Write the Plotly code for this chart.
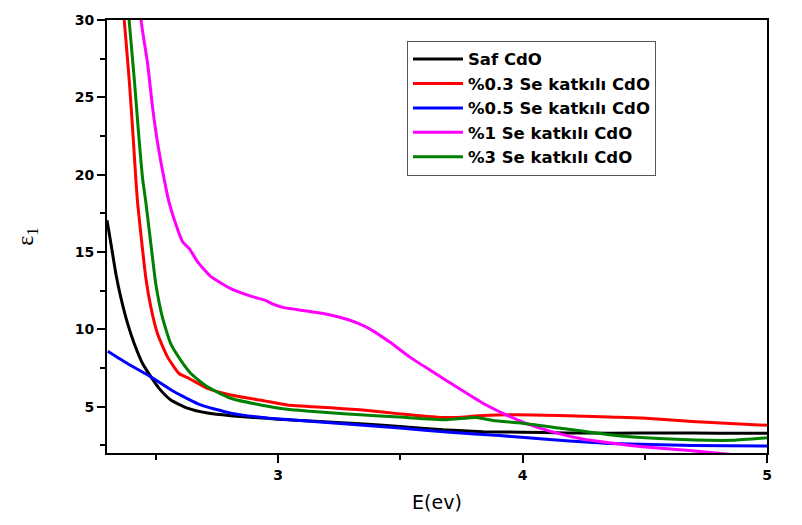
import plotly.graph_objects as go

# Photon energy (eV) and real dielectric constant for each film
e_saf = [2.300, 2.317, 2.337, 2.357, 2.385, 2.412, 2.446, 2.48, 2.513, 2.561, 2.629,
         2.711, 2.806, 2.9, 3.0, 3.335, 3.498, 3.675, 3.838, 4.0, 4.177, 4.354,
         4.6, 4.8, 5.0]
eps_saf = [17.05, 15.45, 13.53, 12.03, 10.33, 9.05, 7.77, 6.92, 6.18, 5.43, 4.9,
           4.58, 4.41, 4.3, 4.19, 3.89, 3.72, 3.5, 3.38, 3.34, 3.3, 3.28,
           3.3, 3.28, 3.28]

e_se03 = [2.366, 2.371, 2.391, 2.405, 2.418, 2.425, 2.439, 2.459, 2.48, 2.507, 2.548,
          2.595, 2.636, 2.711, 2.806, 2.941, 3.037, 3.2, 3.335, 3.498, 3.661, 3.729,
          3.838, 3.974, 4.15, 4.354, 4.49, 4.694, 5.0]
eps_se03 = [31.0, 29.9, 26.1, 22.9, 19.7, 18.2, 16.09, 13.3, 11.39, 9.69, 8.2,
            7.14, 6.82, 6.18, 5.75, 5.38, 5.11, 4.94, 4.79, 4.53, 4.3, 4.3,
            4.42, 4.47, 4.42, 4.32, 4.26, 4.04, 3.79]

e_se05 = [2.303, 2.385, 2.48, 2.575, 2.683, 2.806, 2.955, 3.09, 3.335, 3.498, 3.702,
          3.906, 4.11, 4.354, 4.694, 5.0]
eps_se05 = [8.58, 7.77, 6.92, 5.96, 5.11, 4.58, 4.26, 4.1, 3.81, 3.61, 3.34,
            3.13, 2.87, 2.62, 2.49, 2.45]

e_se1 = [2.436, 2.44, 2.466, 2.486, 2.507, 2.534, 2.554, 2.588, 2.609, 2.636, 2.67,
         2.724, 2.806, 2.888, 2.948, 2.982, 3.023, 3.118, 3.2, 3.281, 3.335, 3.376,
         3.458, 3.539, 3.634, 3.729, 3.838, 3.933, 4.028, 4.137, 4.245, 4.354, 4.49,
         4.694, 4.8, 5.0]
eps_se1 = [31.0, 29.9, 27.2, 24.4, 22.05, 19.7, 18.2, 16.5, 15.66, 15.23, 14.38,
           13.42, 12.63, 12.14, 11.87, 11.61, 11.4, 11.18, 10.97, 10.65, 10.33, 10.01,
           9.16, 8.2, 7.24, 6.28, 5.22, 4.47, 3.83, 3.3, 2.91, 2.66, 2.4,
           2.14, 1.98, 1.7]

e_se3 = [2.386, 2.391, 2.412, 2.428, 2.446, 2.459, 2.48, 2.5, 2.527, 2.561, 2.602,
         2.643, 2.711, 2.806, 2.928, 3.037, 3.2, 3.335, 3.498, 3.688, 3.81, 3.879,
         4.0, 4.15, 4.354, 4.558, 4.762, 4.86, 5.0]
eps_se3 = [31.0, 29.9, 26.1, 22.9, 19.7, 18.2, 15.45, 12.89, 10.75, 9.05, 7.99,
           7.14, 6.28, 5.54, 5.11, 4.83, 4.62, 4.47, 4.32, 4.15, 4.3, 4.1,
           3.93, 3.61, 3.18, 2.93, 2.82, 2.82, 2.98]

series_names = ["Saf CdO", "%0.3 Se katkılı CdO", "%0.5 Se katkılı CdO",
                "%1 Se katkılı CdO", "%3 Se katkılı CdO"]
series_x = [e_saf, e_se03, e_se05, e_se1, e_se3]
series_y = [eps_saf, eps_se03, eps_se05, eps_se1, eps_se3]
series_colors = ["#000000", "#FF0000", "#0000FF", "#FF00FF", "#008000"]

x_ticks = [3, 4, 5]
y_ticks = [5, 10, 15, 20, 25, 30]

BOLD_FONT = "DejaVu Sans, sans-serif"
TEXT_FONT = "DejaVu Sans, sans-serif"
GREEK_FONT = "Liberation Serif, serif"

fig = go.Figure()
for name, xs, ys, col in zip(series_names, series_x, series_y, series_colors):
    fig.add_trace(go.Scatter(x=xs, y=ys, mode="lines", name=name,
                             line=dict(color=col, width=3, shape="spline", smoothing=0.5)))

fig.update_layout(
    width=802, height=525,
    margin=dict(l=107, r=35, t=16, b=72),
    paper_bgcolor="white", plot_bgcolor="white",
    font=dict(family=TEXT_FONT, color="black"),
    showlegend=True,
    legend=dict(
        x=0.4545, y=0.952, xanchor="left", yanchor="top",
        bgcolor="white", bordercolor="#555555", borderwidth=1,
        font=dict(family=BOLD_FONT, size=16.5, color="black", weight="bold"),
        tracegroupgap=0, itemwidth=50,
    ),
)

fig.update_xaxes(
    range=[2.3, 5], tickvals=x_ticks, ticktext=[str(t) for t in x_ticks],
    showgrid=False, zeroline=False,
    showline=True, linecolor="black", linewidth=2, mirror=True,
    ticks="outside", ticklen=8, tickwidth=2, tickcolor="black",
    minor=dict(tickvals=[2.5, 3.5, 4.5], ticks="outside", ticklen=5,
               tickwidth=2, tickcolor="black"),
    tickfont=dict(family=BOLD_FONT, size=14, color="black", weight="bold"),
    title=dict(text="E(ev)", font=dict(family=TEXT_FONT, size=19, color="black"),
               standoff=14),
)

fig.update_yaxes(
    range=[2, 30], tickvals=y_ticks, ticktext=[str(t) for t in y_ticks],
    showgrid=False, zeroline=False,
    showline=True, linecolor="black", linewidth=2, mirror=True,
    ticks="outside", ticklen=8, tickwidth=2, tickcolor="black",
    minor=dict(tickvals=[2.5, 7.5, 12.5, 17.5, 22.5, 27.5], ticks="outside",
               ticklen=5, tickwidth=2, tickcolor="black"),
    tickfont=dict(family=BOLD_FONT, size=14, color="black", weight="bold"),
    title=dict(text="ε<sub>1</sub>", font=dict(family=GREEK_FONT, size=24, color="black"),
               standoff=34),
)

fig.write_html("out.html")
